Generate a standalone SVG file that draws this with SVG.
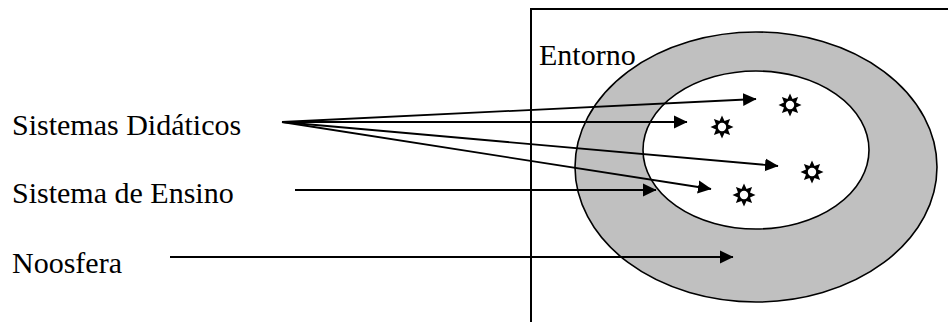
<svg xmlns="http://www.w3.org/2000/svg" xmlns:xlink="http://www.w3.org/1999/xlink" width="948" height="322" viewBox="0 0 948 322">
<style>
text{font-family:"Liberation Serif","Times New Roman",serif;font-size:30px;fill:#000}
.c{stroke:#000;stroke-width:1.8;fill:none;marker-end:url(#ah)}
</style>
<defs>
<marker id="ah" markerUnits="userSpaceOnUse" markerWidth="14" markerHeight="14" viewBox="0 0 14 14" refX="13" refY="7" orient="auto">
<path d="M0,0.5 L13.5,7 L0,13.5 Z" fill="#000"/>
</marker>
<g id="star">
<polygon fill="#000" points="0,-11.5 2.5,-6 8.1,-8.1 6,-2.5 11.5,0 6,2.5 8.1,8.1 2.5,6 0,11.5 -2.5,6 -8.1,8.1 -6,2.5 -11.5,0 -6,-2.5 -8.1,-8.1 -2.5,-6"/>
<circle r="4.2" fill="#fff"/>
</g>
</defs>
<rect width="948" height="322" fill="#fff"/>
<g id="entorno">
<path d="M531,322 V9 H948" fill="none" stroke="#000" stroke-width="2"/>
<text x="539" y="65" font-size="29">Entorno</text>
</g>
<g id="noosfera-region">
<ellipse cx="756" cy="167" rx="181" ry="135" fill="#c0c0c0" stroke="#000" stroke-width="1.6"/>
</g>
<g id="ensino-region">
<ellipse cx="756" cy="150" rx="113" ry="79" fill="#fff" stroke="#000" stroke-width="1.6"/>
</g>
<g id="stars">
<use xlink:href="#star" x="790" y="105"/>
<use xlink:href="#star" x="722" y="127"/>
<use xlink:href="#star" x="812" y="172"/>
<use xlink:href="#star" x="744" y="195"/>
</g>
<g id="labels">
<text x="12" y="135">Sistemas Didáticos</text>
<text x="12" y="203">Sistema de Ensino</text>
<text x="12" y="273">Noosfera</text>
</g>
<g id="connectors">
<line class="c" x1="282" y1="122" x2="756" y2="99"/>
<line class="c" x1="282" y1="122" x2="687" y2="122"/>
<line class="c" x1="282" y1="122" x2="778" y2="166"/>
<line class="c" x1="282" y1="122" x2="711" y2="189"/>
<line class="c" x1="295" y1="190" x2="656" y2="190"/>
<line class="c" x1="170" y1="257" x2="733" y2="257"/>
</g>
</svg>
